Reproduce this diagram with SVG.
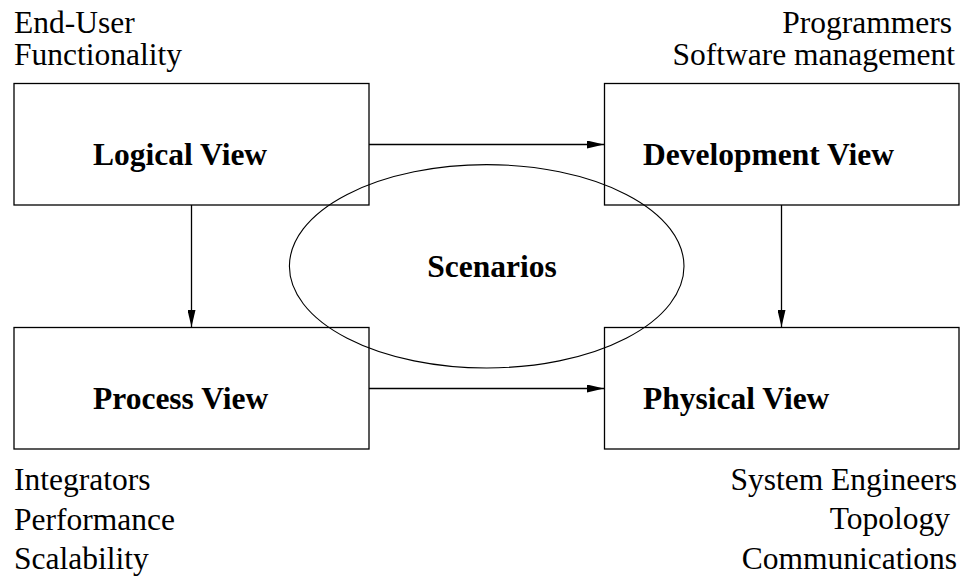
<svg xmlns="http://www.w3.org/2000/svg" width="963" height="579" viewBox="0 0 963 579">
<style>
.box{fill:#fff;stroke:#000;stroke-width:1.3}
.lbl{font-family:"Liberation Serif","Times New Roman",serif;font-size:31.5px;fill:#000}
.title{font-family:"Liberation Serif","Times New Roman",serif;font-size:31.5px;font-weight:bold;fill:#000}
.conn{stroke:#000;stroke-width:1.3;fill:none}
.end{text-anchor:end}
</style>
<defs>
<marker id="arr" viewBox="0 0 17 8" refX="17" refY="4" markerWidth="17" markerHeight="8" markerUnits="userSpaceOnUse" orient="auto">
<path d="M0,0 L17,4 L0,8 Z" fill="#000"/>
</marker>
</defs>
<rect width="963" height="579" fill="#fff"/>
<g id="connectors">
<line class="conn" x1="369" y1="144.5" x2="604" y2="144.5" marker-end="url(#arr)"/>
<line class="conn" x1="191.5" y1="205" x2="191.5" y2="327" marker-end="url(#arr)"/>
<line class="conn" x1="781.5" y1="205" x2="781.5" y2="327" marker-end="url(#arr)"/>
<line class="conn" x1="369" y1="388.5" x2="604" y2="388.5" marker-end="url(#arr)"/>
</g>
<g id="logical">
<rect class="box" x="14" y="83.5" width="355" height="121.5"/>
<text class="title" x="93" y="165">Logical View</text>
</g>
<g id="development">
<rect class="box" x="604.5" y="83.5" width="354.5" height="121.5"/>
<text class="title" x="643" y="165">Development View</text>
</g>
<g id="process">
<rect class="box" x="14" y="327.5" width="355" height="121.5"/>
<text class="title" x="93" y="409">Process View</text>
</g>
<g id="physical">
<rect class="box" x="604.5" y="327.5" width="354.5" height="121.5"/>
<text class="title" x="643" y="409">Physical View</text>
</g>
<g id="scenarios">
<ellipse cx="486.7" cy="266.3" rx="197.3" ry="101.7" fill="none" stroke="#000" stroke-width="1.1"/>
<text class="title" x="492" y="277" text-anchor="middle">Scenarios</text>
</g>
<g id="labels">
<text class="lbl" x="14" y="33">End-User</text>
<text class="lbl" x="14" y="65">Functionality</text>
<text class="lbl end" x="952" y="33">Programmers</text>
<text class="lbl end" x="955" y="65">Software management</text>
<text class="lbl" x="14" y="490">Integrators</text>
<text class="lbl" x="14" y="530">Performance</text>
<text class="lbl" x="14" y="569">Scalability</text>
<text class="lbl end" x="957" y="490">System Engineers</text>
<text class="lbl end" x="950" y="529">Topology</text>
<text class="lbl end" x="957" y="569">Communications</text>
</g>
</svg>
